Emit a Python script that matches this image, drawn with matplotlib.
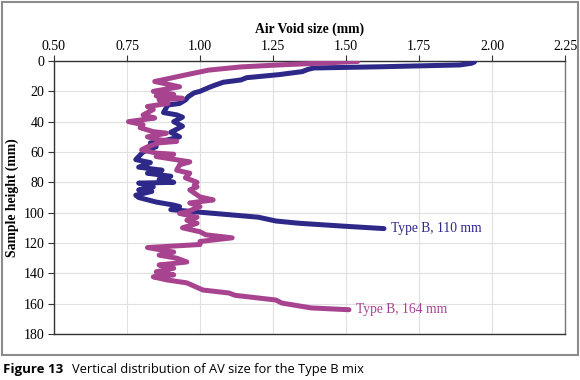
import matplotlib
matplotlib.use("Agg")
import matplotlib.pyplot as plt
from matplotlib.patches import Rectangle

# Type B, 110 mm (blue)
b110_size = [1.94, 1.93, 1.89, 1.62, 1.39, 1.37, 1.35, 1.27, 1.16, 1.14, 1.08, 1.05, 1.03, 1.00, 0.98,
             0.96, 0.95, 0.93, 0.89, 0.875, 0.92, 0.94, 0.91, 0.94, 0.90, 0.93, 0.89, 0.83, 0.85,
             0.805, 0.79, 0.78, 0.83, 0.79, 0.87, 0.82, 0.90, 0.86, 0.91, 0.79, 0.84, 0.79, 0.835,
             0.78, 0.79, 0.85, 0.91, 0.93, 0.90, 1.00, 1.11, 1.20, 1.26, 1.34, 1.50, 1.63]
b110_depth = [0.6, 1.5, 2.6, 3.8, 4.6, 5.5, 7.0, 9.0, 11.0, 12.5, 14.0, 16.0, 17.5, 20.0, 21.0,
              23.5, 25.7, 28.0, 29.0, 34.0, 35.5, 37.0, 40.0, 43.0, 47.0, 50.0, 52.0, 54.0, 56.5,
              60.0, 63.0, 65.0, 67.0, 70.0, 72.0, 74.0, 76.0, 78.0, 80.0, 80.5, 83.0, 85.0, 86.0,
              88.5, 90.0, 93.0, 95.0, 96.0, 98.0, 99.7, 101.5, 103.0, 105.5, 107.0, 109.0, 110.5]

# Type B, 164 mm (magenta)
b164_size = [1.54, 1.27, 1.14, 1.03, 0.955, 0.87, 0.845, 0.93, 0.84, 0.91, 0.85, 0.94, 0.86, 0.89,
             0.82, 0.84, 0.805, 0.845, 0.755, 0.805, 0.795, 0.84, 0.885, 0.82, 0.86, 0.92, 0.86,
             0.82, 0.80, 0.85, 0.91, 0.85, 0.965, 0.93, 0.92, 0.965, 0.95, 0.99, 0.98, 0.99, 0.965,
             1.00, 1.045, 0.965, 1.00, 0.955, 0.93, 0.99, 0.955, 0.99, 0.94, 1.00, 1.02, 1.11, 1.00,
             1.00, 0.82, 0.91, 0.86, 0.92, 0.955, 0.86, 0.91, 0.85, 0.91, 0.84, 0.885, 0.955, 1.01,
             1.10, 1.12, 1.26, 1.28, 1.38, 1.51]
b164_depth = [0.3, 2.6, 3.9, 6.0, 9.0, 12.5, 13.5, 17.0, 20.0, 22.0, 23.0, 24.6, 25.7, 28.0,
              30.0, 32.0, 35.6, 37.6, 40.0, 42.0, 44.0, 46.6, 47.6, 50.0, 52.0, 53.0, 54.0,
              56.6, 58.6, 60.7, 61.5, 63.0, 66.5, 68.5, 72.0, 74.0, 77.0, 80.0, 82.0, 83.0, 85.0,
              89.6, 91.6, 93.6, 96.0, 99.5, 100.5, 103.0, 105.0, 107.0, 110.0, 112.6, 114.6, 116.6, 119.0,
              121.0, 123.0, 126.0, 128.0, 130.0, 132.5, 134.5, 136.6, 139.0, 141.0, 142.3, 144.3, 146.3, 151.0,
              153.0, 154.5, 157.6, 159.6, 162.8, 164.0]

labels = ["Type B, 110 mm", "Type B, 164 mm"]
x_ticks = [0.50, 0.75, 1.00, 1.25, 1.50, 1.75, 2.00, 2.25]
y_ticks = [0, 20, 40, 60, 80, 100, 120, 140, 160, 180]

blue = "#2e2889"
mag = "#a8438f"
serif = "Liberation Serif"

fig = plt.figure(figsize=(5.8, 3.8), dpi=100)
ax = fig.add_axes([54/580, 1 - 334/380, (565-54)/580, (334-61)/380])

ax.plot(b110_size, b110_depth, color=blue, lw=3.6, solid_joinstyle="round", solid_capstyle="round", zorder=3)
ax.plot(b164_size, b164_depth, color=mag, lw=3.6, solid_joinstyle="round", solid_capstyle="round", zorder=3)

ax.text(b110_size[-1] + 0.025, b110_depth[-1], labels[0], color=blue, fontsize=9.8,
        family=serif, va="center", ha="left")
ax.text(b164_size[-1] + 0.025, b164_depth[-1], labels[1], color=mag, fontsize=9.8,
        family=serif, va="center", ha="left")

ax.set_xlim(0.5, 2.25)
ax.set_ylim(180, 0)
ax.set_xticks(x_ticks)
ax.set_xticklabels([f"{v:.2f}" for v in x_ticks], family=serif, fontsize=10)
ax.set_yticks(y_ticks)
ax.set_yticklabels([str(v) for v in y_ticks], family=serif, fontsize=10)
ax.xaxis.tick_top()
ax.xaxis.set_label_position("top")
ax.tick_params(axis="x", direction="out", length=4, pad=2, color="#333333", top=True, bottom=False)
ax.tick_params(axis="y", direction="out", length=4, pad=3, color="#333333")
ax.grid(True, color="#e0e0e0", lw=0.8, zorder=0)
ax.set_axisbelow(True)
for s in ["left", "top", "bottom"]:
    ax.spines[s].set_color("#333333")
    ax.spines[s].set_linewidth(1.0)
ax.spines["right"].set_color("#777777")
ax.spines["right"].set_linewidth(1.0)

ax.set_xlabel("Air Void size (mm)", family=serif, fontsize=9.8, fontweight="bold", labelpad=5)
ax.set_ylabel("Sample height (mm)", family=serif, fontsize=9.8, fontweight="bold", labelpad=3)

fig.patches.append(Rectangle((1.5/580, 1 - 355/380), 576.5/580, 353/380, transform=fig.transFigure,
                             fill=False, edgecolor="#8c8c8c", lw=1.5))

fig.text(3/580, 1 - 369/380, "Figure 13", family="Open Sans", fontweight="bold", fontsize=9.5, va="center", ha="left")
fig.text(72/580, 1 - 369/380, "Vertical distribution of AV size for the Type B mix", family="Open Sans",
         fontsize=9.3, va="center", ha="left")

fig.savefig("out.png", dpi=100)
